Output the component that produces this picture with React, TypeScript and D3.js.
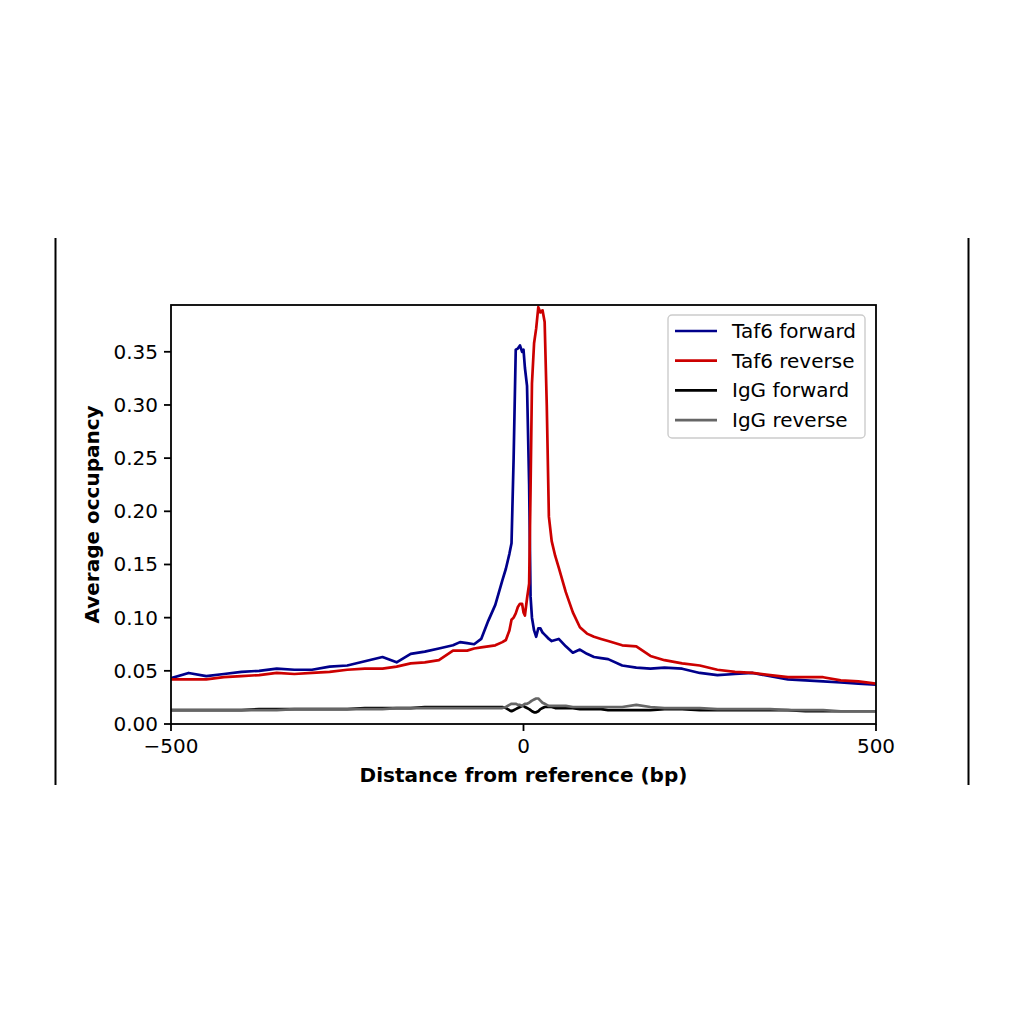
import React from "react";
import * as d3 from "d3";

// distance from reference (bp)
const positions = [
  -500, -475, -450, -425, -400, -375, -350, -325, -300, -275,
  -250, -225, -200, -180, -160, -140, -120, -100, -90, -80,
  -70, -60, -50, -40, -30, -25, -20, -17, -14, -11,
  -8, -5, -2, 0, 2, 5, 8, 10, 12, 15,
  18, 21, 24, 27, 30, 33, 36, 40, 45, 50,
  60, 70, 80, 90, 100, 110, 120, 140, 160, 180,
  200, 225, 250, 275, 300, 325, 350, 375, 400, 425,
  450, 475, 500,
];

const taf6Forward = [
  0.043, 0.048, 0.045, 0.047, 0.049, 0.050, 0.052, 0.051, 0.051, 0.054,
  0.055, 0.059, 0.063, 0.058, 0.066, 0.068, 0.071, 0.074, 0.077, 0.076,
  0.075, 0.080, 0.097, 0.112, 0.135, 0.146, 0.160, 0.170, 0.250, 0.352,
  0.353, 0.356, 0.350, 0.352, 0.335, 0.318, 0.225, 0.120, 0.100, 0.088,
  0.082, 0.090, 0.090, 0.086, 0.084, 0.082, 0.080, 0.078, 0.079, 0.080,
  0.073, 0.067, 0.070, 0.066, 0.063, 0.062, 0.061, 0.055, 0.053, 0.052,
  0.053, 0.052, 0.048, 0.046, 0.047, 0.048, 0.045, 0.042, 0.041, 0.040,
  0.039, 0.038, 0.037,
];

const taf6Reverse = [
  0.042, 0.042, 0.042, 0.044, 0.045, 0.046, 0.048, 0.047, 0.048, 0.049,
  0.051, 0.052, 0.052, 0.054, 0.057, 0.058, 0.060, 0.069, 0.069, 0.069,
  0.071, 0.072, 0.073, 0.074, 0.077, 0.079, 0.088, 0.098, 0.100, 0.104,
  0.110, 0.113, 0.113, 0.105, 0.102, 0.118, 0.132, 0.220, 0.320, 0.358,
  0.372, 0.392, 0.387, 0.389, 0.378, 0.300, 0.195, 0.172, 0.158, 0.147,
  0.124, 0.105, 0.091, 0.085, 0.082, 0.080, 0.078, 0.074, 0.073, 0.064,
  0.060, 0.057, 0.055, 0.051, 0.049, 0.048, 0.046, 0.044, 0.044, 0.044,
  0.041, 0.040, 0.038,
];

const iggForward = [
  0.013, 0.013, 0.013, 0.013, 0.013, 0.014, 0.014, 0.014, 0.014, 0.014,
  0.014, 0.015, 0.015, 0.015, 0.015, 0.016, 0.016, 0.016, 0.016, 0.016,
  0.016, 0.016, 0.016, 0.016, 0.016, 0.015, 0.013, 0.012, 0.013, 0.014,
  0.015, 0.016, 0.017, 0.017, 0.016, 0.015, 0.014, 0.013, 0.012, 0.011,
  0.011, 0.012, 0.014, 0.015, 0.016, 0.016, 0.016, 0.016, 0.015, 0.015,
  0.015, 0.015, 0.014, 0.014, 0.014, 0.014, 0.013, 0.013, 0.013, 0.013,
  0.014, 0.014, 0.013, 0.013, 0.013, 0.013, 0.013, 0.013, 0.012, 0.012,
  0.012, 0.012, 0.012,
];

const iggReverse = [
  0.013, 0.013, 0.013, 0.013, 0.013, 0.013, 0.013, 0.014, 0.014, 0.014,
  0.014, 0.014, 0.014, 0.015, 0.015, 0.015, 0.015, 0.015, 0.015, 0.015,
  0.015, 0.015, 0.015, 0.015, 0.015, 0.016, 0.018, 0.019, 0.019, 0.019,
  0.018, 0.018, 0.017, 0.018, 0.019, 0.019, 0.020, 0.021, 0.022, 0.023,
  0.024, 0.024, 0.022, 0.020, 0.019, 0.018, 0.017, 0.017, 0.017, 0.017,
  0.017, 0.016, 0.016, 0.016, 0.016, 0.016, 0.016, 0.016, 0.018, 0.016,
  0.015, 0.015, 0.015, 0.014, 0.014, 0.014, 0.014, 0.013, 0.013, 0.013,
  0.012, 0.012, 0.012,
];

const seriesNames = ["Taf6 forward", "Taf6 reverse", "IgG forward", "IgG reverse"];
const seriesValues = [taf6Forward, taf6Reverse, iggForward, iggReverse];
const seriesColors = ["#00008b", "#cc0000", "#000000", "#666666"];

const yTicks = [0, 0.05, 0.1, 0.15, 0.2, 0.25, 0.3, 0.35];
const xTicks = [-500, 0, 500];

const FONT = "DejaVu Sans, sans-serif";

export default function App() {
  const left = 171, right = 876, top = 305, bottom = 724;

  const x = d3.scaleLinear().domain([-500, 500]).range([left, right]);
  const y = d3.scaleLinear().domain([0, 0.394]).range([bottom, top]);

  const line = d3
    .line<number>()
    .x((_, i) => x(positions[i]))
    .y((d) => y(d));

  const fmtX = (v: number) => (v < 0 ? "\u2212" + Math.abs(v) : String(v));

  return (
    <div style={{ position: "absolute", left: 0, top: 0 }}>
      <svg width={1024} height={1024} style={{ display: "block", background: "#fff" }}>
        {/* stray frame lines at the page edges */}
        <line x1={55.5} x2={55.5} y1={238} y2={785} stroke="#000" strokeWidth={2} />
        <line x1={968.5} x2={968.5} y1={238} y2={785} stroke="#000" strokeWidth={2} />

        <defs>
          <clipPath id="plot-clip">
            <rect x={left} y={top} width={right - left} height={bottom - top} />
          </clipPath>
        </defs>

        <g clipPath="url(#plot-clip)">
          {seriesValues.map((vals, i) => (
            <path
              key={seriesNames[i]}
              d={line(vals) || ""}
              fill="none"
              stroke={seriesColors[i]}
              strokeWidth={2.7}
              strokeLinejoin="round"
            />
          ))}
        </g>

        <rect
          x={left}
          y={top}
          width={right - left}
          height={bottom - top}
          fill="none"
          stroke="#000"
          strokeWidth={1.8}
        />

        {/* y axis */}
        {yTicks.map((t) => (
          <g key={t}>
            <line x1={left - 7} x2={left} y1={y(t)} y2={y(t)} stroke="#000" strokeWidth={1.8} />
            <text
              x={left - 13}
              y={y(t) + 7}
              textAnchor="end"
              fontFamily={FONT}
              fontSize={20}
            >
              {t.toFixed(2)}
            </text>
          </g>
        ))}

        {/* x axis */}
        {xTicks.map((t) => (
          <g key={t}>
            <line x1={x(t)} x2={x(t)} y1={bottom} y2={bottom + 7} stroke="#000" strokeWidth={1.8} />
            <text x={x(t)} y={bottom + 29} textAnchor="middle" fontFamily={FONT} fontSize={20}>
              {fmtX(t)}
            </text>
          </g>
        ))}

        <text
          x={(left + right) / 2}
          y={782}
          textAnchor="middle"
          fontFamily={FONT}
          fontSize={20}
          fontWeight="bold"
        >
          Distance from reference (bp)
        </text>
        <text
          transform={`translate(99,${(top + bottom) / 2}) rotate(-90)`}
          textAnchor="middle"
          fontFamily={FONT}
          fontSize={20}
          fontWeight="bold"
        >
          Average occupancy
        </text>

        {/* legend */}
        <g>
          <rect
            x={668}
            y={315}
            width={197}
            height={123}
            rx={4}
            fill="#fff"
            fillOpacity={0.8}
            stroke="#cccccc"
            strokeWidth={1.4}
          />
          {seriesNames.map((name, i) => {
            const ly = 331 + i * 29.7;
            return (
              <g key={name}>
                <line x1={675} x2={717} y1={ly} y2={ly} stroke={seriesColors[i]} strokeWidth={2.7} />
                <text x={732} y={ly + 7} fontFamily={FONT} fontSize={20}>
                  {name}
                </text>
              </g>
            );
          })}
        </g>
      </svg>
    </div>
  );
}
